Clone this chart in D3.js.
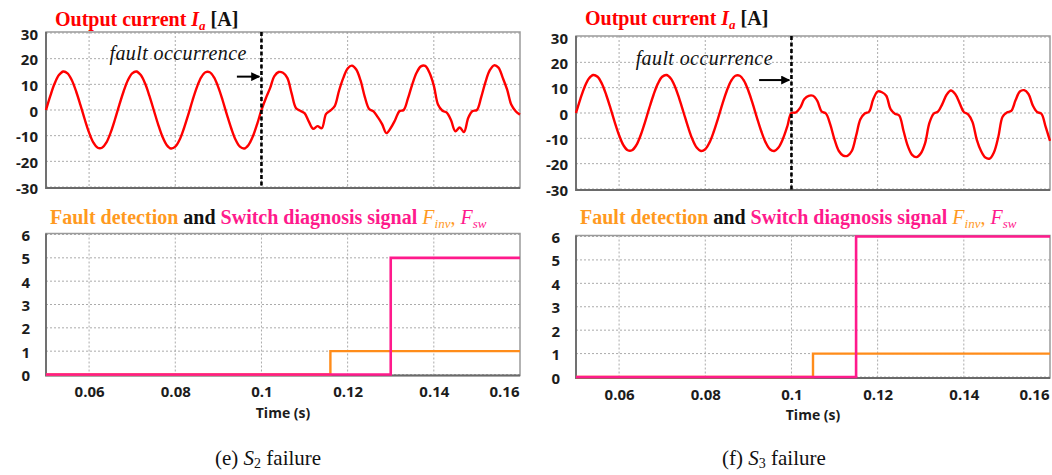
<!DOCTYPE html>
<html>
<head>
<meta charset="utf-8">
<script src="https://cdn.jsdelivr.net/npm/d3@7"></script>
<style>
  body { margin: 0; background: #fff; }
  svg { display: block; }
  .tick text { font-family: "Open Sans", sans-serif; font-weight: 700; font-size: 15px; fill: #1c1c1c; }
</style>
</head>
<body>
<svg id="chart" width="1052" height="475"></svg>
<script>
// sampled every 1 ms from t = 0.05 s
const timeStart = 0.05;
const timeStep = 0.001;

// 0.05 .. 0.10 s, healthy (same in both cases)
const preFault = [
  0, 5.5, 10.3, 13.6, 15.0, 14.3, 11.6, 7.2, 1.9, -3.7,
  -8.8, -12.7, -14.7, -14.7, -12.7, -8.8, -3.7, 1.9, 7.2, 11.6,
  14.3, 15.0, 13.6, 10.3, 5.5, 0, -5.5, -10.3, -13.6, -15.0,
  -14.3, -11.6, -7.2, -1.9, 3.7, 8.8, 12.7, 14.7, 14.7, 12.7,
  8.8, 3.7, -1.9, -7.2, -11.6, -14.3, -15.0, -13.6, -10.3, -5.5
];

// 0.10 .. 0.16 s after S2 open
const postS2 = [
  0, 4.5, 8.5, 13.2, 14.8, 14.5, 12.5, 6.5, 0.8, -0.3,
  -1.2, -4.5, -7.3, -6.3, -7.1, -1.5, -0.2, 1.5, 7.5, 12.5,
  16.2, 17.3, 15.8, 11.5, 5.0, 0.4, -0.5, -2.8, -5.5, -9.0,
  -7.0, -4.0, -0.5, 0, 4.5, 10.0, 14.5, 17.0, 17.2, 14.5,
  9.5, 2.0, -0.3, -1.0, -4.0, -8.3, -6.8, -8.6, -3.0, -0.4,
  0, 5.0, 11.0, 15.5, 17.4, 16.5, 12.5, 8.0, 2.0, -0.5, -1.8
];

// 0.10 .. 0.16 s after S3 open
const postS3 = [
  0, 0.2, 2.0, 5.5, 6.8, 6.8, 4.8, 0.6, -0.2, -4.5,
  -10.5, -15.0, -16.8, -16.9, -15.0, -9.0, -2.5, -0.2, 0.5, 5.5,
  8.5, 8.2, 6.8, 1.5, -0.3, -1.0, -7.0, -13.0, -16.5, -17.4,
  -16.0, -12.0, -4.0, -0.3, 0.5, 3.5, 7.2, 8.9, 7.5, 4.0,
  0.4, -0.5, -3.5, -10.5, -15.0, -17.6, -18.0, -15.5, -9.5, -1.5,
  0.2, 0.8, 5.0, 8.5, 9.0, 7.5, 3.0, 0.4, -0.3, -5.5, -11.0
];

// step signals: [time, level]
const finvS2 = [[0.05, 0], [0.116, 1], [0.16, 1]];
const fswS2 = [[0.05, 0], [0.13, 5], [0.16, 5]];
const finvS3 = [[0.05, 0], [0.105, 1], [0.16, 1]];
const fswS3 = [[0.05, 0], [0.115, 6], [0.16, 6]];

const timeTicks = [0.06, 0.08, 0.1, 0.12, 0.14, 0.16];
const currentTicks = [30, 20, 10, 0, -10, -20, -30];
const signalTicks = [0, 1, 2, 3, 4, 5, 6];
const faultTime = 0.1;

const red = '#ff0000';
const orange = '#ff8c1a';
const pink = '#ff1a8c';
const grid = '#ababab';
const serif = '"Liberation Serif", "DejaVu Serif", serif';

const svg = d3.select('#chart');

const toPoints = arr => arr.map((v, i) => [timeStart + i * timeStep, v]);

const panels = [
  {
    left: 46, right: 520, topRange: [187, 33], botRange: [374.5, 234.5],
    titleY: 26, subTitleY: 223.5,
    current: toPoints(preFault.concat(postS2)), finv: finvS2, fsw: fswS2,
    note: { textT: 0.0966, textV: 19.3, fromT: 0.0943, toT: 0.0995, arrowV: 13 },
    tag: '(e) ', sw: 'S', sub: '2', captionX: 215
  },
  {
    left: 576, right: 1050, topRange: [189, 37], botRange: [377, 236.5],
    titleY: 24.5, subTitleY: 223.5,
    current: toPoints(preFault.concat(postS3)), finv: finvS3, fsw: fswS3,
    note: { textT: 0.0957, textV: 19, fromT: 0.0925, toT: 0.0995, arrowV: 13 },
    tag: '(f) ', sw: 'S', sub: '3', captionX: 722
  }
];

svg.append('defs').append('marker')
  .attr('id', 'arrow')
  .attr('viewBox', '0 0 10 10')
  .attr('refX', 9).attr('refY', 5)
  .attr('markerWidth', 4.5).attr('markerHeight', 4.5)
  .attr('orient', 'auto')
  .append('path')
  .attr('d', 'M0,0L10,5L0,10z')
  .attr('fill', '#000');

const drawFrame = (g, x, y, yTicks, labelGap) => {
  const top = y.range()[1] - 1;
  const bottom = y.range()[0] + 1;

  // dotted grid
  g.selectAll('.vgrid')
    .data(timeTicks.filter(t => t < 0.159))
    .enter().append('line')
    .attr('x1', d => x(d)).attr('x2', d => x(d))
    .attr('y1', top).attr('y2', bottom)
    .attr('stroke', grid).attr('stroke-width', 1).attr('stroke-dasharray', '2,2');
  g.selectAll('.hgrid')
    .data(yTicks)
    .enter().append('line')
    .attr('x1', x.range()[0]).attr('x2', x.range()[1])
    .attr('y1', d => y(d)).attr('y2', d => y(d))
    .attr('stroke', grid).attr('stroke-width', 1).attr('stroke-dasharray', '2,2');

  g.append('rect')
    .attr('x', x.range()[0]).attr('y', top)
    .attr('width', x.range()[1] - x.range()[0]).attr('height', bottom - top)
    .attr('fill', 'none').attr('stroke', '#9a9a9a').attr('stroke-width', 1.5);
  g.append('path')
    .attr('d', `M${x.range()[0]},${top}V${bottom}H${x.range()[1]}`)
    .attr('fill', 'none').attr('stroke', '#6a6a6a').attr('stroke-width', 1.8);

  const yAxis = g.append('g')
    .attr('transform', `translate(${x.range()[0] - labelGap},0)`)
    .call(d3.axisLeft(y).tickValues(yTicks).tickSize(0).tickPadding(0).tickFormat(d => String(d)));
  yAxis.select('.domain').remove();
  yAxis.selectAll('text').attr('dy', '0.4em');
};

panels.forEach(p => {
  const g = svg.append('g');
  const x = d3.scaleLinear().domain([0.05, 0.16]).range([p.left, p.right]);
  const yTop = d3.scaleLinear().domain([-30, 30]).range(p.topRange);
  const yBot = d3.scaleLinear().domain([0, 6]).range(p.botRange);

  // ---- output current ----
  drawFrame(g, x, yTop, currentTicks, 8);

  g.append('path')
    .datum(p.current)
    .attr('fill', 'none')
    .attr('stroke', red)
    .attr('stroke-width', 2.4)
    .attr('stroke-linejoin', 'round')
    .attr('d', d3.line().x(d => x(d[0])).y(d => yTop(d[1])).curve(d3.curveCatmullRom));

  g.append('line')
    .attr('x1', x(faultTime)).attr('x2', x(faultTime))
    .attr('y1', p.topRange[1] - 1).attr('y2', p.topRange[0] + 1)
    .attr('stroke', '#000').attr('stroke-width', 2.6).attr('stroke-dasharray', '4,2.5');

  g.append('text')
    .attr('x', x(p.note.textT)).attr('y', yTop(p.note.textV))
    .attr('text-anchor', 'end')
    .attr('font-family', serif).attr('font-style', 'italic').attr('font-size', 20)
    .attr('letter-spacing', 0.4)
    .attr('fill', '#111')
    .text('fault occurrence');

  g.append('line')
    .attr('x1', x(p.note.fromT)).attr('x2', x(p.note.toT))
    .attr('y1', yTop(p.note.arrowV)).attr('y2', yTop(p.note.arrowV))
    .attr('stroke', '#000').attr('stroke-width', 2)
    .attr('marker-end', 'url(#arrow)');

  const t1 = g.append('text')
    .attr('x', p.left + 9).attr('y', p.titleY)
    .attr('font-family', serif).attr('font-weight', 700).attr('font-size', 20)
    .attr('fill', red);
  t1.append('tspan').text('Output current ');
  t1.append('tspan').attr('font-style', 'italic').text('I');
  t1.append('tspan').attr('font-style', 'italic').attr('font-size', 13).attr('dy', 4).text('a');
  t1.append('tspan').attr('fill', '#111').attr('dy', -4).text(' [A]');

  // ---- detection / diagnosis signals ----
  drawFrame(g, x, yBot, signalTicks, 16);

  const step = d3.line().x(d => x(d[0])).y(d => yBot(d[1])).curve(d3.curveStepAfter);
  g.append('path').datum(p.finv)
    .attr('fill', 'none').attr('stroke', orange).attr('stroke-width', 2.4)
    .attr('d', step);
  g.append('path').datum(p.fsw)
    .attr('fill', 'none').attr('stroke', pink).attr('stroke-width', 2.6)
    .attr('d', step);

  const xAxis = g.append('g')
    .attr('transform', `translate(0,${p.botRange[0] + 1})`)
    .call(d3.axisBottom(x).tickValues(timeTicks).tickSize(0).tickPadding(11).tickFormat(d => String(d)));
  xAxis.select('.domain').remove();
  xAxis.selectAll('.tick text')
    .filter(d => d > 0.159)
    .attr('text-anchor', 'end')
    .attr('dx', -1);

  g.append('text')
    .attr('x', (p.left + p.right) / 2).attr('y', p.botRange[0] + 43)
    .attr('text-anchor', 'middle')
    .attr('font-family', '"Open Sans", sans-serif').attr('font-weight', 700).attr('font-size', 14)
    .attr('fill', '#1c1c1c')
    .text('Time (s)');

  const t2 = g.append('text')
    .attr('x', p.left + 4).attr('y', p.subTitleY)
    .attr('font-family', serif).attr('font-weight', 700).attr('font-size', 20);
  t2.append('tspan').attr('fill', '#ff9a1f').text('Fault detection ');
  t2.append('tspan').attr('fill', '#111').text('and ');
  t2.append('tspan').attr('fill', pink).text('Switch diagnosis signal ');
  t2.append('tspan').attr('fill', '#ff9a1f').attr('font-weight', 400).attr('font-style', 'italic').text('F');
  t2.append('tspan').attr('fill', '#ff9a1f').attr('font-weight', 400).attr('font-style', 'italic')
    .attr('font-size', 13).attr('dy', 4).text('inv');
  t2.append('tspan').attr('fill', '#ff9a1f').attr('font-weight', 400).attr('dy', -4).text(', ');
  t2.append('tspan').attr('fill', pink).attr('font-weight', 400).attr('font-style', 'italic').text('F');
  t2.append('tspan').attr('fill', pink).attr('font-weight', 400).attr('font-style', 'italic')
    .attr('font-size', 13).attr('dy', 4).text('sw');

  // ---- caption ----
  const cap = svg.append('text')
    .attr('x', p.captionX).attr('y', 465)
    .attr('font-family', serif).attr('font-size', 21).attr('fill', '#111');
  cap.append('tspan').text(p.tag);
  cap.append('tspan').attr('font-style', 'italic').text(p.sw);
  cap.append('tspan').attr('font-size', 14).attr('dy', 3).text(p.sub);
  cap.append('tspan').attr('dy', -3).text(' failure');
});
</script>
</body>
</html>
